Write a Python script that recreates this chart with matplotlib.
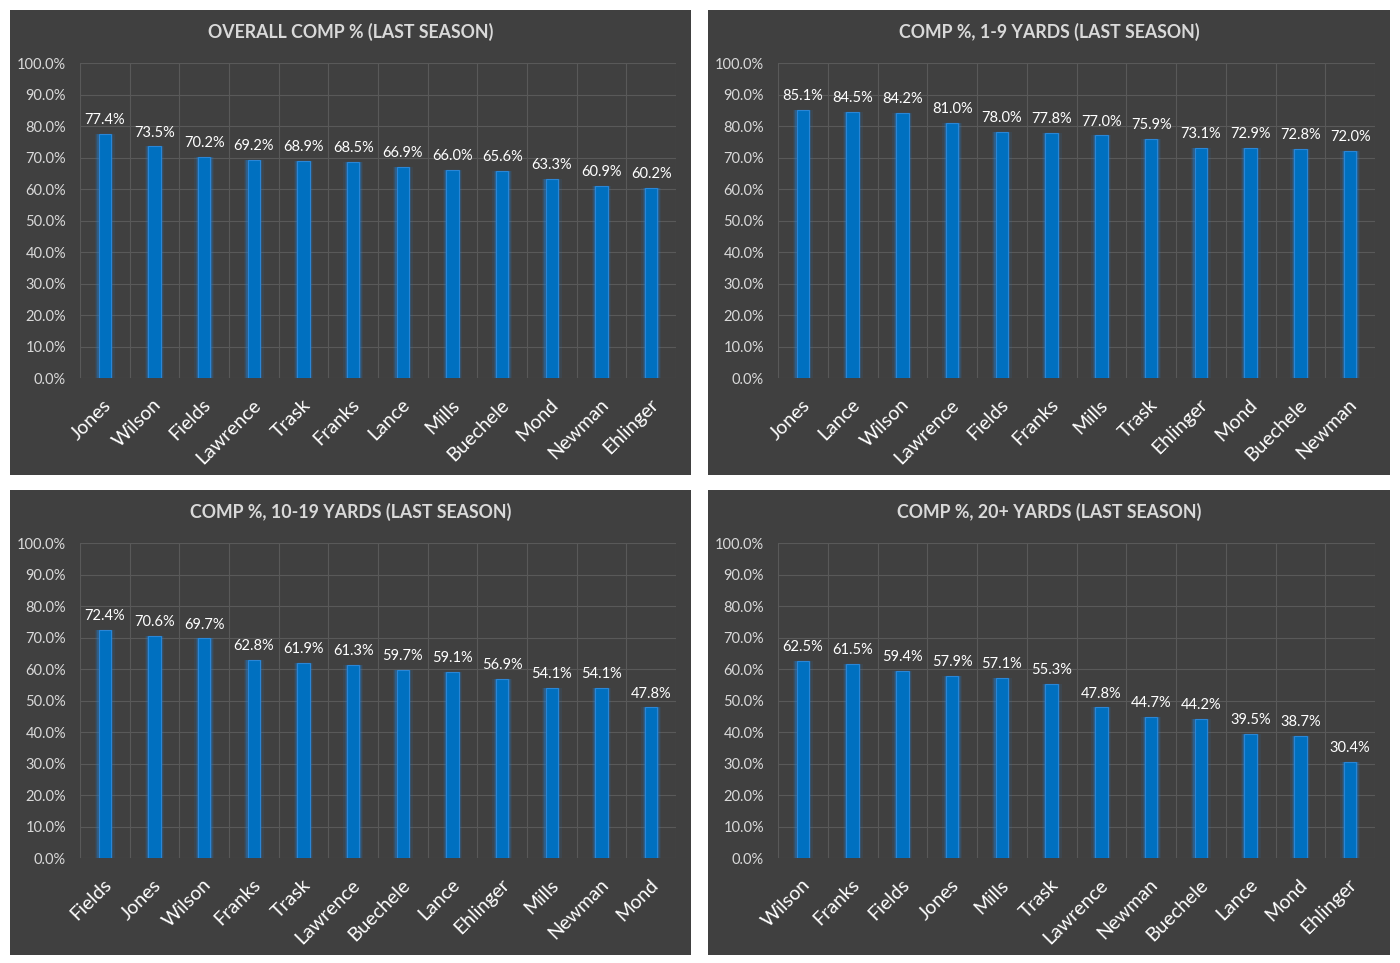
import matplotlib.pyplot as plt
from matplotlib.patches import Rectangle

plt.rcParams['font.family'] = ['Lato', 'DejaVu Sans']

# data for each panel
overall_names = ['Jones', 'Wilson', 'Fields', 'Lawrence', 'Trask', 'Franks', 'Lance', 'Mills',
                 'Buechele', 'Mond', 'Newman', 'Ehlinger']
overall_vals = [77.4, 73.5, 70.2, 69.2, 68.9, 68.5, 66.9, 66.0, 65.6, 63.3, 60.9, 60.2]

short_names = ['Jones', 'Lance', 'Wilson', 'Lawrence', 'Fields', 'Franks', 'Mills', 'Trask',
               'Ehlinger', 'Mond', 'Buechele', 'Newman']
short_vals = [85.1, 84.5, 84.2, 81.0, 78.0, 77.8, 77.0, 75.9, 73.1, 72.9, 72.8, 72.0]

mid_names = ['Fields', 'Jones', 'Wilson', 'Franks', 'Trask', 'Lawrence', 'Buechele', 'Lance',
             'Ehlinger', 'Mills', 'Newman', 'Mond']
mid_vals = [72.4, 70.6, 69.7, 62.8, 61.9, 61.3, 59.7, 59.1, 56.9, 54.1, 54.1, 47.8]

deep_names = ['Wilson', 'Franks', 'Fields', 'Jones', 'Mills', 'Trask', 'Lawrence', 'Newman',
              'Buechele', 'Lance', 'Mond', 'Ehlinger']
deep_vals = [62.5, 61.5, 59.4, 57.9, 57.1, 55.3, 47.8, 44.7, 44.2, 39.5, 38.7, 30.4]

titles = ['OVERALL COMP % (LAST SEASON)', 'COMP %, 1-9 YARDS (LAST SEASON)',
          'COMP %, 10-19 YARDS (LAST SEASON)', 'COMP %, 20+ YARDS (LAST SEASON)']

W, H = 1400, 963
BG = '#404040'
GRID = '#595959'
BAR = '#0070C0'

fig = plt.figure(figsize=(W / 100, H / 100), dpi=100, facecolor='white')

# panel boxes in pixels: (left, top, right, bottom), plot area (left, top, right, bottom)
panels = [
    ((10, 10, 691, 475), (80, 63, 676, 378)),
    ((708, 10, 1390, 475), (778, 63, 1375, 378)),
    ((10, 490, 691, 955), (80, 543, 676, 858)),
    ((708, 490, 1390, 955), (778, 543, 1375, 858)),
]
data = [(overall_names, overall_vals), (short_names, short_vals),
        (mid_names, mid_vals), (deep_names, deep_vals)]

for (box, plot), (names, vals), title in zip(panels, data, titles):
    bl, bt, br, bb = box
    fig.patches.append(Rectangle((bl / W, 1 - bb / H), (br - bl) / W, (bb - bt) / H,
                                 transform=fig.transFigure, facecolor=BG, edgecolor='none',
                                 zorder=-10))
    fig.text((bl + br) / 2 / W, 1 - (bt + 22) / H, title, ha='center', va='center',
             color='#D9D9D9', fontsize=12.8, fontweight='bold')

    pl, pt, pr, pb = plot
    ax = fig.add_axes([pl / W, 1 - pb / H, (pr - pl) / W, (pb - pt) / H])
    ax.set_facecolor('none')
    x = list(range(len(names)))
    # soft glow behind bars
    for w, a in [(0.40, 0.10), (0.34, 0.18), (0.30, 0.30)]:
        ax.bar(x, vals, width=w, color='#1E7FD8', alpha=a, zorder=2, linewidth=0)
    ax.bar(x, vals, width=0.25, color=BAR, edgecolor='#2A86D6', linewidth=0.8, zorder=3)
    for xi, v in zip(x, vals):
        ax.text(xi, v + 2.2, f'{v:.1f}%', ha='center', va='bottom', color='white',
                fontsize=10.5, zorder=4)

    ax.set_xlim(-0.5, len(names) - 0.5)
    ax.set_ylim(0, 100)
    ax.set_yticks(range(0, 101, 10))
    ax.set_yticklabels([f'{t:.1f}%' for t in range(0, 101, 10)])
    ax.set_xticks([xi - 0.04 for xi in x])
    ax.set_xticklabels(names, rotation=45, ha='right', rotation_mode='anchor')
    ax.set_xticks([i - 0.5 for i in range(len(names) + 1)], minor=True)
    ax.grid(True, axis='y', color=GRID, linewidth=0.8, zorder=0)
    ax.grid(True, axis='x', which='minor', color=GRID, linewidth=0.8, zorder=0)
    ax.tick_params(axis='y', colors='#D9D9D9', labelsize=10.5, length=0, pad=10)
    ax.tick_params(axis='x', which='major', colors='white', labelsize=14, length=0, pad=13)
    ax.tick_params(axis='x', which='minor', length=0)
    for sp in ax.spines.values():
        sp.set_visible(False)

fig.savefig('out.png', dpi=100, facecolor='white')
